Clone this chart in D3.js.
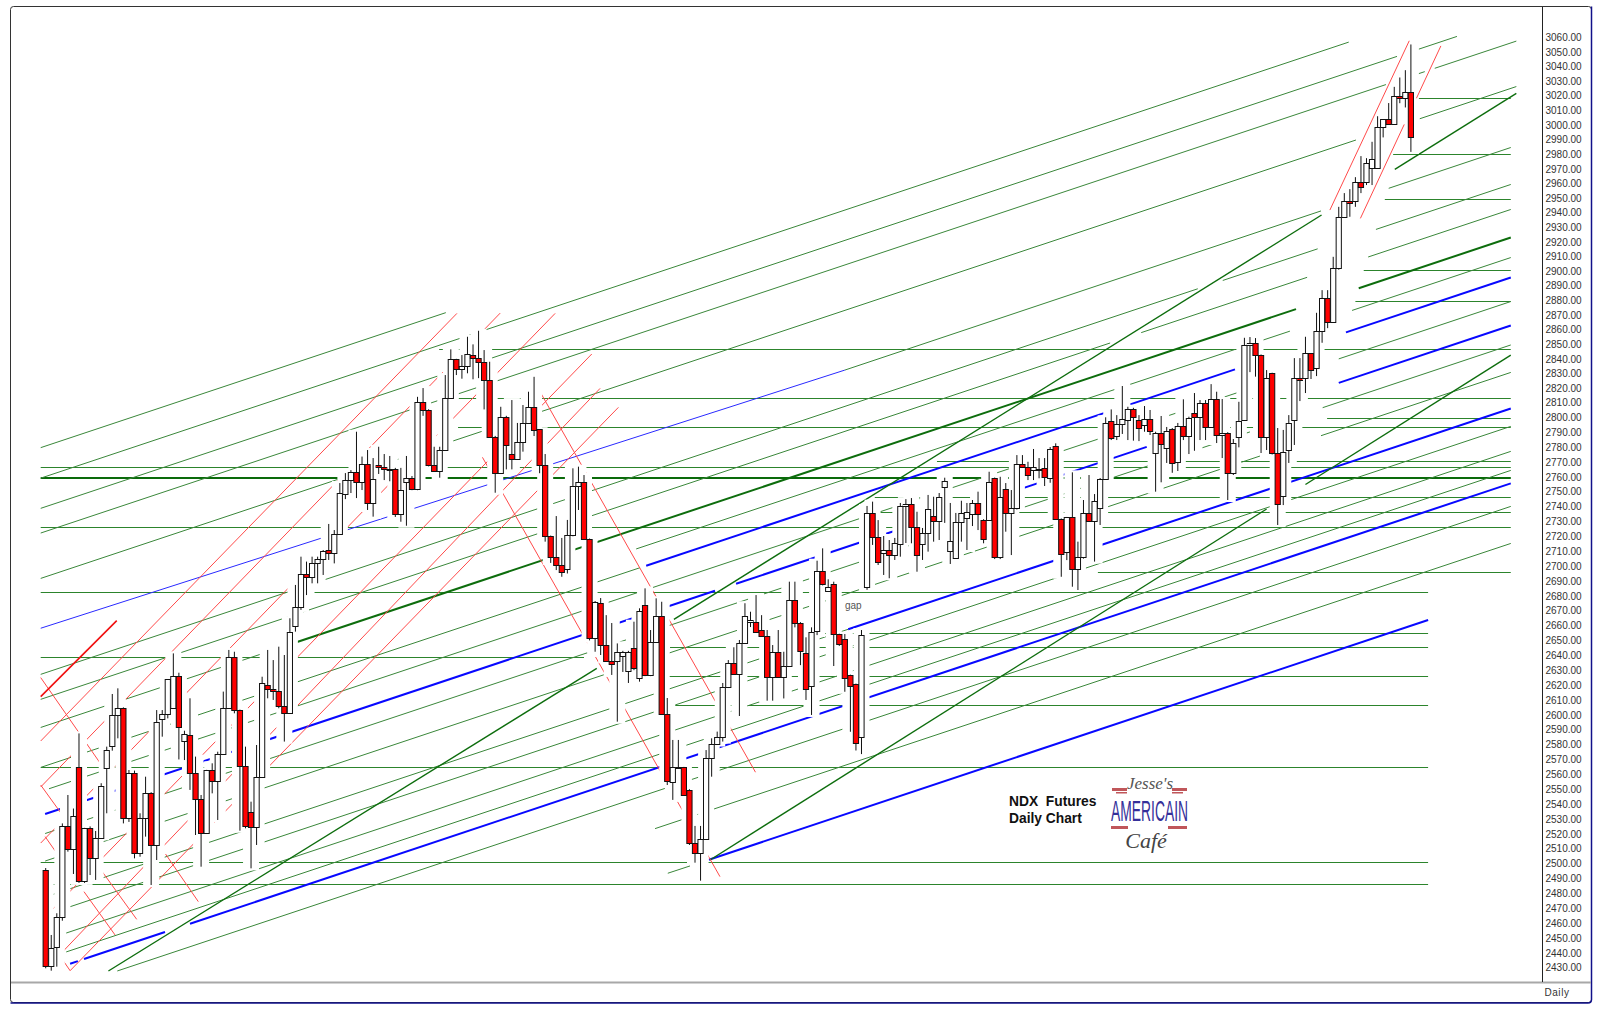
<!DOCTYPE html>
<html><head><meta charset="utf-8">
<script src="https://cdn.jsdelivr.net/npm/d3@7"></script>
<style>html,body{margin:0;padding:0;background:#fff}svg{display:block}</style>
</head><body><svg id="c" width="1600" height="1013"></svg>
<script>
const opens=[2496,2431,2444,2464,2525,2510,2565,2488,2524,2503.5,
2517.4,2564,2579,2599.6,2604.4,2530.4,2560.7,2506.9,2530.4,2547.7,
2512.3,2597,2600.3,2604.4,2626.3,2582.2,2586.4,2560.7,2543.2,2520.3,
2562.9,2555.7,2573.4,2604.4,2639.1,2603.2,2565.6,2534.4,2524.4,2558,
2620,2617.4,2616.2,2605.9,2601,2659.7,2672.2,2694.4,2692.4,2701.8,
2704.5,2710.8,2709,2721.3,2748.4,2757.8,2763.4,2756.7,2768.4,2742.6,
2767.9,2766.4,2765,2765.2,2734.8,2756.7,2759.4,2751.6,2810.2,2805,
2767.7,2764.1,2778,2813.2,2839.6,2832.8,2835.3,2842.6,2840.3,2838,
2825.5,2787,2762.7,2800.4,2775.1,2771.8,2783.2,2796,2806.8,2791.9,
2767.7,2720.2,2705.9,2700.7,2698.2,2720.7,2753.8,2756.3,2718,2651.4,
2675.4,2646.7,2636.4,2636.4,2639.7,2629.4,2644.7,2624.5,2674,2626.8,
2649.2,2666.6,2600.4,2555,2564.3,2564.7,2549.5,2514,2507.3,2516.3,
2570.8,2580.4,2584.9,2618.9,2635,2627.4,2648.1,2662.4,2662.2,2657,
2653,2625.6,2642.4,2625.6,2633,2677.2,2661.9,2641.8,2619.6,2656.5,
2696.9,2683.4,2687.7,2654.3,2650.8,2626.8,2620.7,2584.9,2686.1,2735.5,
2719.7,2708.8,2710.8,2707.4,2714.6,2740.6,2741.7,2726,2714.6,2722,
2733.6,2730.5,2753.3,2710.1,2705.6,2729.4,2732.5,2735,2742.2,2731,
2731,2759,2706.3,2751.6,2735.5,2738.8,2768.4,2766.8,2764.5,2764.5,
2765.7,2759,2780.7,2731.6,2709.2,2732.8,2697.8,2705.9,2735.9,2730.5,
2739.2,2758.3,2797.7,2787.4,2795.5,2798,2805.4,2798.2,2794.8,2798.6,
2775.8,2789.2,2779.1,2791.9,2769.7,2794.3,2787.4,2802.7,2800.4,2809.5,
2793.6,2812.3,2788.3,2789.6,2762.7,2786.5,2798.2,2849.4,2851,2842.6,
2787,2830.1,2775.8,2747.3,2778,2798,2827,2826.8,2843.7,2833.5,
2859.2,2881.4,2865,2901.9,2937.2,2948.1,2948.1,2960.7,2960.7,2970.7,
2970.7,2998.3,3003.8,3000.4,3019.9,3018.8,3022.7];
const highs=[2497,2452,2466.6,2527,2546.1,2537,2587.5,2524,2525,2521.9,
2554,2578.6,2614,2617.8,2605,2562.9,2562.5,2533.8,2558.4,2548,
2603.2,2603.2,2624,2641.3,2628.3,2589.3,2611.1,2571.9,2546.1,2563,
2567.4,2575.2,2615.6,2643.6,2642.4,2603.5,2578.6,2541.6,2579.7,2625.6,
2643.6,2636.8,2645.8,2640.2,2664.9,2687.3,2706.3,2703,2706.3,2706.3,
2710.8,2728.3,2724.2,2755.8,2762.5,2764.5,2790.3,2773.6,2778,2772.6,
2780.2,2775.3,2774,2766,2766,2774,2760.5,2814,2820,2805.5,
2780.2,2780.2,2828.9,2846.5,2840,2842.6,2855.1,2849.9,2859.2,2846,
2838,2787.5,2807.2,2801,2811.8,2796.2,2808.4,2817.5,2827.7,2792,
2775.3,2720.5,2733.6,2718.9,2731,2765.7,2766.8,2761.2,2718.5,2676.5,
2678.5,2667,2661.7,2648,2643,2643,2662.6,2671.6,2685,2657,
2678.3,2676,2611.3,2583.1,2583.1,2565,2550,2525.3,2525.3,2576.3,
2584.2,2588.7,2621.4,2636.8,2645.4,2650.3,2675,2669.3,2680.5,2667,
2657,2646.9,2657,2642.4,2689.5,2689.5,2662.3,2652.1,2658.8,2703.6,
2711.9,2691.1,2689.5,2654.5,2654.3,2627,2621,2657,2740.4,2743.3,
2730.9,2720.2,2717.5,2718.9,2742.4,2745,2745.7,2736.5,2725.6,2747.8,
2746.6,2749.1,2759.4,2742.4,2735.7,2743.9,2742.4,2744.4,2750,2731.5,
2763.4,2759.5,2760,2755.8,2751.1,2774.6,2774.6,2770.1,2778.7,2772.6,
2772.6,2780,2782.5,2732,2733,2763,2716.4,2744.4,2761.2,2748.4,
2759.2,2800,2805.4,2801.5,2821.4,2807.2,2806.5,2801.5,2807.7,2805,
2790.3,2800.9,2793.5,2792.8,2796.2,2812.3,2800.4,2816.6,2811.8,2811.8,
2822.7,2817.5,2812.5,2790,2785.4,2810.6,2854.4,2854.9,2854.2,2843,
2832.3,2830.5,2792.8,2791.5,2801.5,2840.5,2840.5,2855.1,2844,2871.5,
2887,2887,2909.8,2944,2953.4,2956.1,2964.3,2978.7,2977.3,2988.5,
3006,3004,3015,3026.1,3032.5,3037.5,3055.1];
const lows=[2429.6,2428,2430.7,2461.6,2508,2493,2487,2487,2492.3,2489,
2517,2533.8,2575.9,2584.2,2527,2528,2503.5,2504.6,2518.1,2485.6,
2502.4,2585.3,2597.6,2604,2570,2569.6,2549.5,2519.2,2497.9,2520,
2547.2,2529.3,2573,2604,2601,2522.1,2523.7,2496.8,2512.5,2558,
2611.1,2610,2604.4,2582,2601,2655.9,2670.5,2680.5,2688.4,2688.4,
2694,2704.1,2701.8,2721,2745,2749.1,2745.7,2751.1,2737.7,2733.2,
2761.9,2757.8,2757,2733,2729.8,2727.1,2751,2751,2801,2767,
2763.4,2759.4,2778,2813,2828.9,2826.4,2830.1,2826,2826.8,2805.4,
2787,2749.3,2762,2765,2765,2771.3,2776.9,2795.5,2787.4,2762.4,
2716.4,2702.1,2697.3,2692.8,2695,2720,2737.7,2717.5,2650,2642.4,
2640.2,2636,2626.8,2595.4,2628.8,2621.4,2630,2622.3,2626,2626,
2649,2600,2552.8,2542.8,2564,2546,2512.5,2500.6,2488.5,2516,
2558.4,2580,2582,2618,2627,2599.2,2648,2659,2655.5,2652.5,
2609.5,2609.5,2625,2611,2632.5,2658.8,2633.4,2610,2599.9,2653.6,
2687,2682.7,2632.8,2646.3,2615.5,2588.6,2576,2573.6,2684,2714.2,
2700.7,2694,2691.8,2704.1,2706.3,2715.5,2715.3,2696.2,2704.1,2709.7,
2716.4,2717.5,2729,2701.4,2705,2716.4,2710.8,2726.9,2724.2,2715.3,
2730.5,2704.7,2704.7,2723.1,2707.4,2738,2765.9,2757.8,2757.8,2759,
2753.8,2756,2731,2692.8,2704,2686.1,2683.9,2705,2730,2703,
2727.6,2758,2784.7,2784.7,2788.8,2784.7,2784.3,2784,2790.3,2788.1,
2750,2756.3,2769.3,2762.7,2763.9,2784.7,2775.3,2777.5,2784.7,2784.7,
2793,2782.7,2772.6,2744.4,2761.2,2779.8,2798,2830.9,2827.8,2776,
2778,2775,2727.6,2741,2769.3,2781.4,2811.1,2816.6,2826.2,2828.2,
2851,2861,2865,2901,2937,2937.2,2944,2953.4,2958.9,2958.9,
2970,2991.5,3000,3000,3014.9,3012,2981.6];
const closes=[2431,2443,2464,2525,2510,2532,2488,2524,2503.5,2517.4,
2552.2,2576.3,2599.6,2604.4,2530.4,2560.7,2506.9,2530.4,2547.7,2512.3,
2595.4,2600.3,2623.9,2626.3,2591.6,2586.9,2560.7,2543.2,2520.3,2562.9,
2555.7,2573.4,2604.4,2639.1,2603.2,2565.6,2525.3,2524.4,2558,2621.6,
2617.4,2616.2,2605.9,2601,2655.4,2672.2,2694.4,2692.4,2701.8,2704.5,
2710.3,2709,2721.3,2749.1,2757.8,2763.4,2756.7,2768.4,2742.6,2758.3,
2766.4,2765,2765.4,2734.8,2751.1,2759.4,2751.6,2810.2,2805,2767.7,
2764.1,2778,2813.2,2839.6,2832.8,2835.3,2843,2840.3,2838,2825.5,
2787,2762.7,2800.4,2781.4,2771.8,2783.2,2796.2,2806.8,2791.5,2767.7,
2720.2,2705.9,2700.7,2696.2,2720.7,2753.8,2756.3,2718,2651.4,2676,
2646.7,2636.4,2634,2642.4,2642.4,2642.4,2631.3,2669.8,2626.8,2649.2,
2666.6,2600.6,2555.5,2564.7,2564.7,2546.1,2514,2507.3,2516.3,2570.8,
2580.4,2584.9,2618.9,2635,2627.4,2648.1,2666.4,2663.7,2655.9,2653,
2625.6,2642.4,2625.6,2633,2677.2,2661.9,2643.1,2617.2,2655.5,2696.9,
2687.7,2685.7,2654.3,2647.4,2624.5,2619.6,2581.3,2653.6,2735.5,2719.7,
2702.9,2710.8,2707.4,2715.3,2740.6,2741.7,2726,2707.4,2722,2738.1,
2730.5,2746.2,2757.2,2716.6,2729.4,2735.9,2736.5,2742.2,2735,2718,
2756.5,2706.3,2746.2,2735.5,2738.8,2768.4,2766.8,2761.4,2766.4,2765.2,
2760,2778.5,2731.6,2707.9,2732.8,2697.8,2705.9,2735.9,2730.5,2743.9,
2758.3,2796.4,2786.3,2795.5,2798.6,2805.4,2800.4,2793,2798.6,2791,
2789.2,2782,2790.8,2769.5,2794.3,2787.4,2799.3,2800.4,2809.5,2793.6,
2812.3,2788.3,2789.6,2762.7,2782.9,2797.5,2849.4,2851,2842.6,2787,
2826.8,2775.8,2741.7,2776.5,2796,2827,2825.5,2843.7,2832.3,2859.2,
2881.4,2865,2901.9,2937.2,2948.1,2946.3,2960.7,2957.7,2973.7,2976.6,
2998.3,3003.8,3000.4,3019.9,3018.2,3022.7,2991.9];

// trendlines: [startBar, startPrice, endBar, endPrice, optional visible spans in bars]
const thinGreenLines=[
[0.1,2779.6,73.1,2871.6],
[0.1,2759.1,235.8,3056.7],
[0.1,2738.8,255.3,3060.6,[0.1,244.5,248,255.3]],
[0.1,2722.2,266,3057.4,[0.1,242.5,248.1,249.5,251.3,266]],
[0.1,2691.7,266,3026.3,[0.1,237.1,248.6,266]],
[145,2832.3,265,2984.6,[145,230.8,243,265]],
[0.1,2627.2,265,2959.3,[0.1,208.6,213.1,230.2,240.7,265]],
[0.1,2610.4,265,2942.2,[0.1,192.8,198.4,228.3,239.3,265]],
[0.1,2591.5,46.3,2648.9],
[107.4,2711.5,265,2909.3,[107.4,215.3,220.3,225.2,236.4,265]],
[0.15,2564.7,108.1,2698.9],
[1.6,2550.3,265,2879.2,[1.6,216.2,234,265]],
[0.9,2520.2,265,2849.5,[0.9,218,231.1,265]],
[0.9,2501.7,265,2830.7,[0.9,219.8,230.8,265]],
[0.9,2477.5,145.6,2657.5],
[5.4,2471,265,2793.9],
[4.7,2453.3,265,2777.1],
[4.7,2440.6,265,2764.3],
[13.9,2427.8,265,2740.1],
[110.8,2523.5,265,2715.2],
[113.1,2493.5,117.1,2498.4]
];
const thickGreenLines=[[46.3,2648.9,265,2923,[46.3,226.3,237.6,265]]];
const steepGreenLines=[
[120.7,2502.4,265,2842.6,[120.7,221,228,265]],
[114.2,2664.2,266,3021.6,[114.2,230.9,244.1,266]],
[12.3,2427.8,100.3,2631.2]
];
const thinBlueLines=[[0.1,2658.2,145,2832.3]];
const thickBlueLines=[
[109.2,2700.2,265,2895.7,[109.2,215.3,235.3,265]],
[0.9,2533.3,265,2862.8,[0.9,121.6,125.4,199.4,234,265]],
[145.6,2657.5,265,2806],
[5.4,2432.7,265,2755.6,[5.4,6.8,7.9,22.5,27,265]],
[120.5,2502.6,250.1,2663.7]
];
const redLines=[
[0.1,2582.4,75.1,2871.1],[0.1,2551.5,82.9,2871.3],[0.1,2513.8,92.8,2871.1],
[0.9,2464.1,99.4,2843.3],[3.9,2440.1,100.9,2819.8],[5.4,2428,104.2,2806.8],
[0.1,2625,10.8,2567.6],[0.1,2552.8,3.7,2534.2],[0.9,2518.1,3,2506.9],
[11.1,2495,17.4,2462.5],[7.9,2481.1,13.5,2452],[22.6,2506.4,28.5,2474.4],
[4,2435.6,5.4,2428],[89.3,2822.7,128.9,2561.4],[79.7,2773.1,122.5,2491.2]
];
const boldRedLines=[[0.1,2612.2,13.8,2663.3]];
const channelLines=[[232.4,2941.8,246.7,3057.6],[237.9,2936.1,252.4,3054.1,[237.9,245.8,248,252.4]]];
// horizontal levels: [price, startBar, endBar]
const levels=[
[3018.8,243.8,265],[2979.9,243.8,265],[2949.1,242.3,265],[2900.5,238.5,265],[2879.5,237,265],
[2846.5,71.9,265],[2813.2,75.3,265],[2799.3,231.9,265],[2793.7,75.3,265],[2770.8,161.6,265],
[2766.4,0.1,265],[2746.2,150.4,265],[2736.1,149.5,265],[2726,0.1,265],[2695.8,190.6,265],
[2682.4,0.1,250.1],[2654.8,140.5,250.1],[2645.9,113.5,250.1],[2638.7,0.1,98],
[2625.8,113.1,250.1],[2606.4,114,250.1],[2564.9,0.1,250.1],[2501,0.1,250.1],[2486.1,0.1,250.1]
];
const boldLevels=[[2759.4,0.1,265]];
const tickValues=d3.range(2430,3061,10);
const titleLines=["NDX\u00a0\u00a0Futures","Daily Chart"];

const x=d3.scaleLinear().domain([1,247]).range([45.7,1410.9]);
const y=d3.scaleLinear().domain([2430,2800,3060]).range([967.7,417.3,37.3]);
const svg=d3.select("#c");
const lineGen=d3.line();

function drawTrend(parent,rows,stroke,width){
  const g=parent.append("g").attr("fill","none").attr("stroke",stroke).attr("stroke-width",width);
  rows.forEach(r=>{
    const [b1,p1,b2,p2,spans]=r, s=spans||[b1,b2];
    const x1=x(b1),y1=y(p1),x2=x(b2),y2=y(p2);
    for(let i=0;i<s.length;i+=2){
      const t0=(s[i]-b1)/(b2-b1),t1=(s[i+1]-b1)/(b2-b1);
      g.append("path").attr("d",lineGen([[x1+(x2-x1)*t0,y1+(y2-y1)*t0],[x1+(x2-x1)*t1,y1+(y2-y1)*t1]]));
    }
  });
}
function drawLevels(parent,rows,stroke,width,off){
  parent.append("g").attr("stroke",stroke).attr("stroke-width",width).selectAll("line").data(rows).join("line")
    .attr("x1",d=>x(d[1])).attr("x2",d=>x(d[2]))
    .attr("y1",d=>Math.round(y(d[0]))+off).attr("y2",d=>Math.round(y(d[0]))+off);
}

const lines=svg.append("g");
drawLevels(lines,levels,"#2c842c",1,0.5);
drawLevels(lines,boldLevels,"#0a6a0a",2,0);
drawTrend(lines,thinGreenLines,"#3a873a",1);
drawTrend(lines,thinBlueLines,"#2a2aff",1);
drawTrend(lines,thickBlueLines,"#0808ff",2);
drawTrend(lines,steepGreenLines,"#0d6d0d",1.4);
drawTrend(lines,thickGreenLines,"#0d6d0d",2);
drawTrend(lines,redLines,"#ff4a4a",1);
drawTrend(lines,boldRedLines,"#f01010",1.6);

const bars=d3.range(opens.length).map(i=>({n:i+1,o:opens[i],h:highs[i],l:lows[i],c:closes[i]}));
// clear space that the charting package leaves round each bar
svg.append("g").attr("fill","#fff").selectAll("rect").data(bars).join("rect")
  .attr("x",d=>x(d.n)-8).attr("width",16)
  .attr("y",d=>y(d.h)-2).attr("height",d=>y(d.l)-y(d.h)+4);

drawTrend(svg,channelLines,"#ff4a4a",1);

const cg=svg.append("g");
cg.append("g").attr("stroke","#111").attr("stroke-width",1).selectAll("line").data(bars).join("line")
  .attr("x1",d=>x(d.n)).attr("x2",d=>x(d.n)).attr("y1",d=>y(d.h)).attr("y2",d=>y(d.l));
cg.append("g").selectAll("rect").data(bars).join("rect")
  .attr("x",d=>x(d.n)-2.6).attr("width",5.2)
  .attr("y",d=>Math.round(y(Math.max(d.o,d.c)))+0.5)
  .attr("height",d=>Math.max(1,Math.round(y(Math.min(d.o,d.c)))-Math.round(y(Math.max(d.o,d.c)))))
  .attr("fill",d=>d.o>d.c?"#ff0000":"#ffffff")
  .attr("stroke","#111").attr("stroke-width",1);

// frame
svg.append("rect").attr("x",10.5).attr("y",6.5).attr("width",1581).attr("height",996)
  .attr("rx",3).attr("fill","none").attr("stroke","#333").attr("stroke-width",1);
svg.append("path").attr("d","M10.5 1003H1588q3.5 0 3.5-3.5V6.5").attr("fill","none").attr("stroke","#10108a").attr("stroke-width",1.5);
svg.append("line").attr("x1",11).attr("x2",1591).attr("y1",982.5).attr("y2",982.5).attr("stroke","#a8a8a8").attr("stroke-width",2);
svg.append("line").attr("x1",1542.5).attr("x2",1542.5).attr("y1",7).attr("y2",982).attr("stroke","#222").attr("stroke-width",1);

// axis
const axisG=svg.append("g").attr("transform","translate(1545.5,0)")
  .call(d3.axisRight(y).tickValues(tickValues).tickSize(0).tickPadding(0).tickFormat(d=>d.toFixed(2)));
axisG.select(".domain").remove();
axisG.selectAll("text").attr("font-family","'Liberation Sans',Arial,sans-serif").attr("font-size",10).attr("fill","#333");

const sans="'Liberation Sans',Arial,sans-serif";
svg.append("text").attr("x",1557).attr("y",995.5).attr("text-anchor","middle").attr("font-family",sans).attr("font-size",10).attr("letter-spacing",0.6).attr("fill","#333").text("Daily");
svg.append("text").attr("x",845).attr("y",609).attr("font-family",sans).attr("font-size",10).attr("fill","#555").text("gap");
svg.selectAll("text.t").data(titleLines).join("text").attr("class","t")
  .attr("x",1009).attr("y",(d,i)=>806+i*16.5).attr("font-family",sans).attr("font-weight","bold").attr("font-size",13.8).attr("fill","#111").text(d=>d);

// logo
const logo=svg.append("g");
const stripes=[[1112,788,15,3],[1172,788,15,3],[1111,826,17,3],[1168,826,19,3],[1116,792,11,1.5],[1172,792,11,1.5]];
logo.selectAll("rect").data(stripes).join("rect").attr("x",d=>d[0]).attr("y",d=>d[1]).attr("width",d=>d[2]).attr("height",d=>d[3]).attr("fill","#c0565a");
logo.append("text").attr("x",1150).attr("y",789).attr("text-anchor","middle").attr("font-family","'Liberation Serif',serif").attr("font-style","italic").attr("font-size",17).attr("fill","#555").text("Jesse's");
logo.append("text").attr("x",1111).attr("y",821).attr("textLength",77).attr("lengthAdjust","spacingAndGlyphs").attr("font-family",sans).attr("font-size",29).attr("fill","#35309a").text("AMERICAIN");
logo.append("text").attr("x",1146).attr("y",848).attr("text-anchor","middle").attr("font-family","'Liberation Serif',serif").attr("font-style","italic").attr("font-size",22).attr("fill","#444").text("Café");
</script></body></html>
